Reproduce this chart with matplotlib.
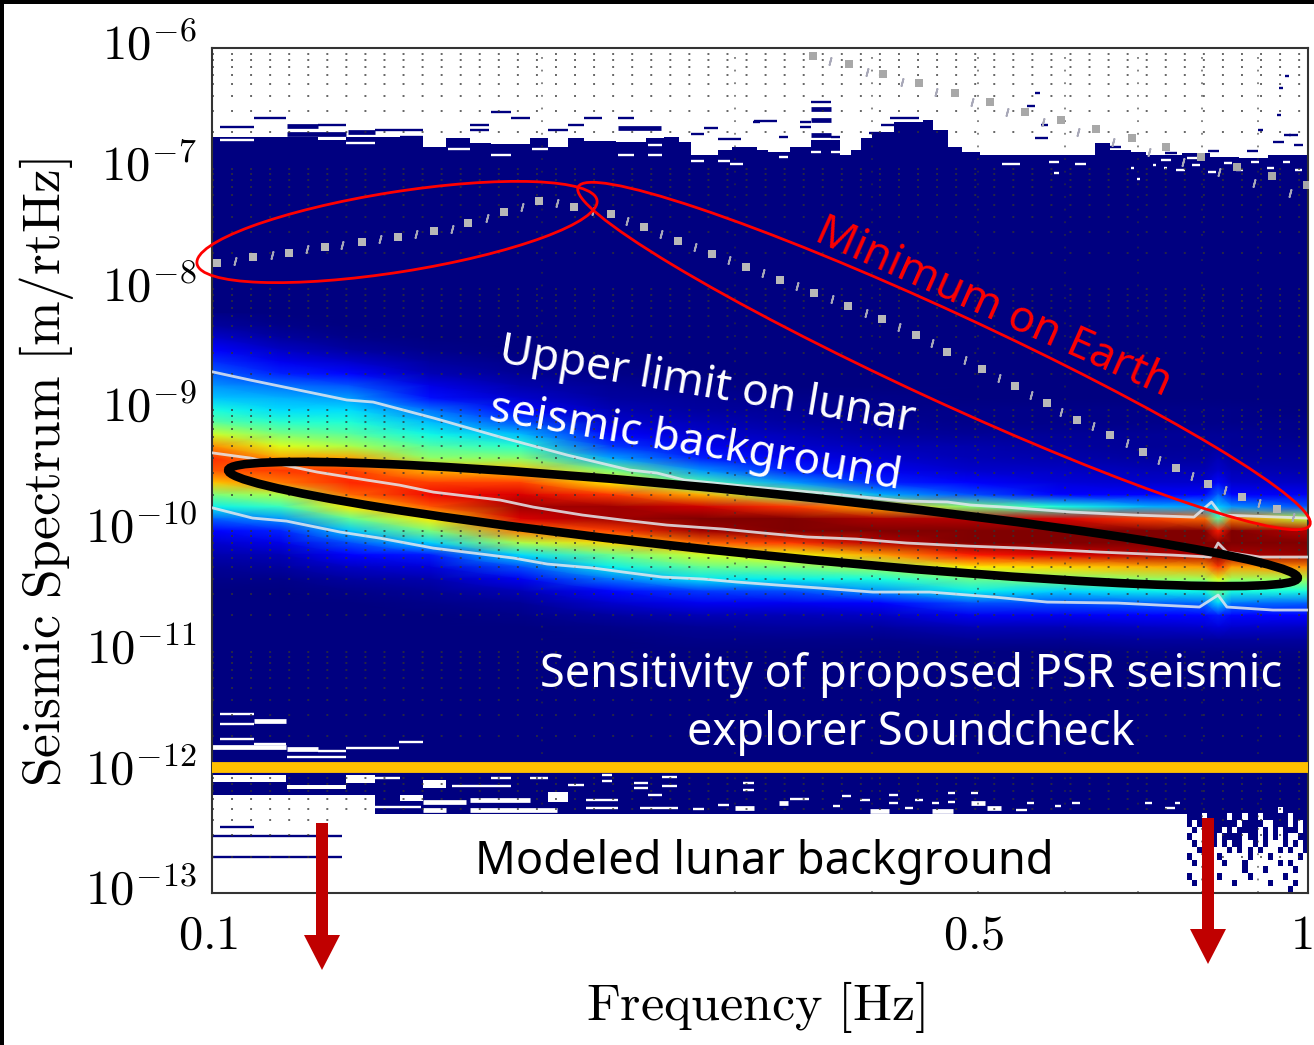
import matplotlib as mpl
mpl.use('Agg')
import matplotlib.pyplot as plt
import numpy as np
from matplotlib.colors import ListedColormap
from matplotlib.patches import Ellipse, FancyArrow, Rectangle
from matplotlib.transforms import Affine2D, IdentityTransform

W, H = 1314, 1045

# density columns, frequency in Hz
psd_freq = [0.1, 0.1154, 0.1336, 0.158, 0.191, 0.231, 0.279, 0.337, 0.407, 0.492,
            0.594, 0.718, 0.805, 0.828, 0.852, 1.0]
# density rows, -log10 of the spectrum
psd_level = [8.2, 8.3, 8.4, 8.5, 8.6, 8.7, 8.8, 8.9, 9.0, 9.1, 9.2, 9.3, 9.4, 9.5, 9.6,
             9.7, 9.8, 9.9, 10.0, 10.1, 10.2, 10.3, 10.4, 10.5, 10.6, 10.7, 10.8, 10.9, 11.0, 11.1]

psd_f0100 = [.01, .03, .07, .12, .17, .22, .27, .32, .38, .46, .6, .76, .86, .82, .7,
             .5, .36, .22, .12, .07, .04, .02, .01, 0, 0, 0, 0, 0, 0, 0]
psd_f0115 = [0, .01, .03, .06, .1, .16, .24, .3, .34, .4, .5, .62, .74, .85, .78,
             .56, .42, .27, .16, .09, .05, .03, .01, 0, 0, 0, 0, 0, 0, 0]
psd_f0134 = [0, 0, .01, .03, .07, .13, .21, .28, .34, .39, .46, .56, .74, .84, .87,
             .8, .66, .47, .32, .2, .11, .06, .03, .01, 0, 0, 0, 0, 0, 0]
psd_f0158 = [0, 0, 0, .01, .03, .05, .09, .14, .24, .31, .37, .45, .53, .72, .84,
             .9, .82, .66, .5, .33, .15, .08, .04, .02, .01, 0, 0, 0, 0, 0]
psd_f0191 = [0, 0, 0, 0, .01, .02, .04, .07, .12, .2, .31, .4, .52, .7, .84,
             .92, .97, .92, .78, .56, .34, .2, .1, .05, .02, .01, 0, 0, 0, 0]
psd_f0231 = [0, 0, 0, 0, 0, .01, .02, .03, .05, .07, .11, .18, .29, .5, .66,
             .85, .97, .97, .84, .68, .48, .36, .24, .13, .07, .03, .01, 0, 0, 0]
psd_f0279 = [0, 0, 0, 0, 0, 0, .01, .02, .03, .05, .07, .1, .16, .27, .44,
             .72, .93, 1, .97, .8, .6, .47, .35, .18, .1, .05, .02, .01, 0, 0]
psd_f0337 = [0, 0, 0, 0, 0, 0, 0, .01, .02, .03, .05, .07, .1, .16, .28,
             .52, .85, 1, 1, .85, .64, .5, .36, .2, .1, .05, .03, .01, 0, 0]
psd_f0407 = [0, 0, 0, 0, 0, 0, 0, .01, .01, .02, .03, .05, .07, .1, .16,
             .3, .72, .96, 1, .95, .74, .54, .38, .27, .12, .06, .03, .01, 0, 0]
psd_f0492 = [0, 0, 0, 0, 0, 0, 0, 0, .01, .01, .02, .04, .05, .07, .11,
             .2, .5, .95, 1, 1, .88, .66, .48, .36, .2, .1, .05, .02, 0, 0]
psd_f0594 = [0, 0, 0, 0, 0, 0, 0, 0, .01, .01, .02, .03, .04, .06, .08,
             .12, .38, .92, 1, 1, .92, .68, .5, .33, .2, .1, .05, .02, 0, 0]
psd_f0718 = [0, 0, 0, 0, 0, 0, 0, 0, .01, .01, .02, .02, .03, .05, .07,
             .11, .3, .84, 1, 1, .95, .72, .53, .36, .22, .12, .06, .03, .01, 0]
psd_f0805 = [0, 0, 0, 0, 0, 0, 0, 0, .01, .01, .02, .02, .03, .05, .07,
             .11, .28, .8, 1, 1, .96, .74, .54, .37, .23, .13, .07, .03, .01, 0]
psd_f0828 = [0, 0, 0, 0, 0, 0, 0, 0, .01, .01, .02, .03, .05, .07, .13,
             .22, .33, .45, .88, 1, 1, .85, .62, .48, .34, .15, .08, .03, .01, 0]
psd_f0852 = [0, 0, 0, 0, 0, 0, 0, 0, .01, .01, .02, .02, .03, .05, .07,
             .11, .27, .78, 1, 1, .96, .74, .54, .38, .24, .13, .07, .03, .01, 0]
psd_f1000 = [0, 0, 0, 0, 0, 0, 0, 0, 0, .01, .01, .02, .03, .04, .06,
             .1, .2, .58, .95, 1, .98, .76, .55, .38, .22, .12, .06, .03, .01, 0]
psd_columns = [psd_f0100, psd_f0115, psd_f0134, psd_f0158, psd_f0191, psd_f0231, psd_f0279, psd_f0337,
               psd_f0407, psd_f0492, psd_f0594, psd_f0718, psd_f0805, psd_f0828, psd_f0852, psd_f1000]

# percentile curves, log10 f and -log10 S
upper_log_f = [-.999, -.965, -.877, -.853, -.798, -.737, -.676, -.619, -.594, -.569, -.506, -.433,
               -.369, -.329, -.308, -.277, -.216, -.159, -.104, -.088, -.079, -.001]
upper_level = [8.684, 8.751, 8.916, 8.933, 9.065, 9.223, 9.372, 9.496, 9.521, 9.579, 9.637, 9.695,
               9.753, 9.761, 9.786, 9.803, 9.844, 9.869, 9.886, 9.761, 9.869, 9.894]
median_log_f = [-.999, -.965, -.904, -.859, -.829, -.798, -.737, -.707, -.662, -.625, -.585, -.534, -.497,
                -.457, -.412, -.366, -.311, -.260, -.190, -.123, -.089, -.082, -.074, -.044, -.001]
median_level = [9.355, 9.397, 9.513, 9.579, 9.621, 9.679, 9.745, 9.803, 9.869, 9.911, 9.952, 9.985, 10.018,
                10.051, 10.068, 10.101, 10.126, 10.143, 10.176, 10.201, 10.217, 10.101, 10.176, 10.217, 10.217]
lower_log_f = [-.999, -.963, -.932, -.883, -.847, -.798, -.725, -.694, -.652, -.625, -.589, -.552, -.521,
               -.484, -.445, -.397, -.345, -.287, -.238, -.174, -.099, -.082, -.074, -.032, -.001]
lower_level = [9.811, 9.894, 9.919, 10.010, 10.060, 10.143, 10.225, 10.275, 10.308, 10.341, 10.383, 10.399, 10.424,
               10.449, 10.474, 10.507, 10.507, 10.548, 10.590, 10.598, 10.631, 10.532, 10.631, 10.656, 10.656]

# minimum on Earth, squares and the short dashes between them
low_sq_log_f = [-.995, -.963, -.930, -.897, -.863, -.830, -.797, -.766, -.734, -.702, -.670, -.636, -.606, -.575,
                -.544, -.513, -.482, -.451, -.420, -.389, -.358, -.329, -.297, -.267, -.238, -.211, -.181, -.151,
                -.120, -.091, -.060, -.028]
low_sq_level = [7.781, 7.732, 7.698, 7.649, 7.607, 7.566, 7.516, 7.450, 7.359, 7.268, 7.317, 7.375, 7.483, 7.599,
                7.707, 7.814, 7.922, 8.030, 8.138, 8.245, 8.378, 8.519, 8.660, 8.800, 8.941, 9.082, 9.206, 9.347,
                9.480, 9.612, 9.720, 9.819]
low_dash_log_f = [-.979, -.945, -.913, -.881, -.847, -.814, -.781, -.749, -.717, -.685, -.652, -.621, -.590, -.559,
                  -.528, -.497, -.466, -.434, -.403, -.373, -.343, -.313, -.282, -.253, -.225, -.196, -.165, -.136,
                  -.106, -.076, -.045, -.014]
low_dash_level = [7.765, 7.715, 7.665, 7.632, 7.582, 7.541, 7.500, 7.408, 7.317, 7.284, 7.350, 7.433, 7.541, 7.649,
                  7.756, 7.864, 7.972, 8.080, 8.196, 8.312, 8.444, 8.585, 8.734, 8.875, 9.016, 9.132, 9.273, 9.413,
                  9.546, 9.662, 9.770, 9.886]
high_sq_log_f = [-.452, -.419, -.388, -.355, -.322, -.290, -.258, -.225, -.193, -.161, -.130, -.098, -.065, -.033, -.001]
high_sq_level = [6.066, 6.133, 6.215, 6.290, 6.373, 6.447, 6.530, 6.597, 6.671, 6.746, 6.820, 6.903, 6.986, 7.060, 7.135]
high_dash_log_f = [-.436, -.402, -.370, -.339, -.307, -.275, -.242, -.210, -.178, -.145, -.114, -.081, -.049, -.016]
high_dash_level = [6.108, 6.199, 6.282, 6.365, 6.447, 6.530, 6.613, 6.696, 6.779, 6.862, 6.945, 7.027, 7.118, 7.201]

# upper edge of the filled histogram
fill_edges = [.1, .1249, .1325, .1408, .1484, .1558, .1635, .172, .1797, .195, .2026, .2112, .2185, .2337, .2489,
              .2585, .2668, .2735, .2895, .2982, .3142, .3216, .3368, .352, .3741, .3828, .391, .4003, .4193, .4454,
              .4548, .4694, .4835, .502, .6393, .6597, .6895, .7115, .7674, .8138, .865, .9194, 1.0]
fill_top = [6.737, 6.762, 6.737, 6.737, 6.746, 6.82, 6.746, 6.787, 6.795, 6.746, 6.82, 6.746, 6.77, 6.779, 6.746,
            6.737, 6.779, 6.887, 6.845, 6.82, 6.845, 6.862, 6.82, 6.762, 6.887, 6.845, 6.746, 6.696, 6.613, 6.597,
            6.679, 6.82, 6.862, 6.887, 6.787, 6.845, 6.862, 6.887, 6.87, 6.903, 6.911, 6.887]
fill_bottom = 12.346
soundcheck_level = 1.1e-12

# single occupied bins outside the filled part: f0, f1, -log10 S
navy_thin = [(.1017, .1093, 6.654), (.1093, .1168, 6.58), (.1249, .1325, 6.638), (.1408, .1558, 6.679),
             (.1484, .1558, 6.737), (.172, .179, 6.638), (.172, .179, 6.679), (.1797, .1875, 6.53),
             (.1875, .195, 6.58), (.2112, .2185, 6.638), (.2026, .2112, 6.679), (.2185, .227, 6.58),
             (.2347, .2426, 6.58), (.2735, .2813, 6.712), (.2813, .2895, 6.663), (.2895, .3039, 6.754),
             (.3118, .3162, 6.613), (.3124, .3278, 6.605), (.3292, .3353, 6.737), (.344, .352, 6.613),
             (.344, .352, 6.654), (.352, .367, 6.447), (.367, .3741, 6.737), (.398, .4075, 6.704),
             (.4075, .4302, 6.638), (.4155, .4414, 6.58), (.563, .57, 6.373), (.554, .563, 6.48),
             (.571, .579, 6.638), (.563, .579, 6.746), (.953, .96, 6.232), (.94, .948, 6.331),
             (.936, .945, 6.555), (.9, .91, 6.679), (.95, .965, 6.72), (.1093, .1168, 12.33),
             (.1017, .1093, 12.454), (.1, .1314, 12.528), (.1, .1314, 12.703),
             (.645, .675, 6.82), (.74, .76, 6.87), (.81, .83, 6.85), (.88, .9, 6.85), (.93, .95, 6.78),
             (.97, .99, 6.8), (.96, .98, 6.72)]
navy_thick = [(.117, .1249, 6.646), (.117, .1325, 6.712), (.1331, .1408, 6.696), (.2347, .2569, 6.663),
              (.352, .367, 6.505), (.352, .367, 6.597), (.352, .367, 6.72)]
white_thin = [(.1017, .1093, 6.762), (.1325, .1408, 6.787), (.1642, .172, 6.837), (.1797, .1875, 6.887),
              (.196, .2026, 6.837), (.2347, .2426, 6.887), (.25, .2573, 6.887), (.25, .2573, 6.804),
              (.2735, .2813, 6.936), (.2895, .297, 6.936), (.297, .3052, 6.961), (.3292, .3353, 6.903),
              (.352, .3591, 6.862), (.367, .3741, 6.862), (.526, .5457, 6.961), (.5804, .593, 6.945),
              (.5867, .593, 7.036), (.6128, .627, 6.961), (.698, .7026, 7.085), (.7759, .7925, 6.911),
              (.7393, .744, 6.995), (.6895, .694, 6.995), (.7225, .727, 6.97),
              (.735, .75, 6.928), (.758, .772, 7.011), (.783, .797, 6.97), (.811, .825, 7.027), (.838, .852, 6.953),
              (.86, .872, 7.011), (.888, .902, 6.945), (.917, .931, 6.994), (.948, .962, 6.945), (.973, .987, 7.011),
              (.1017, .1093, 11.518), (.1017, .1093, 11.60), (.1017, .1093, 11.725), (.1093, .1168, 11.766),
              (.1325, .1481, 11.80), (.1481, .1558, 11.75), (.117, .1325, 11.874), (.1249, .1325, 11.824),
              (.1408, .1484, 12.048), (.1655, .1875, 12.114), (.1797, .1875, 12.048), (.195, .2026, 12.048),
              (.2112, .2185, 12.106), (.227, .2317, 12.023), (.227, .2317, 12.073), (.2426, .25, 12.09),
              (.2426, .25, 12.131), (.25, .2573, 12.189), (.2573, .2655, 12.114), (.2573, .2655, 12.04),
              (.2195, .2347, 12.23), (.2195, .2347, 12.297), (.2456, .266, 12.297), (.2746, .2813, 12.305),
              (.2895, .2961, 12.272), (.3052, .3122, 12.09), (.3052, .3122, 12.147), (.1408, .1551, 12.288),
              (.3368, .3505, 12.222), (.3684, .3741, 12.28), (.3755, .3828, 12.197), (.3902, .3984, 12.23),
              (.4143, .4225, 12.189), (.4143, .4225, 12.255), (.4378, .4454, 12.23), (.4538, .4604, 12.255),
              (.4694, .4765, 12.172), (.4694, .4765, 12.247), (.493, .5003, 12.172), (.5541, .5628, 12.255),
              (.5882, .595, 12.28), (.6095, .6195, 12.255), (.5418, .5541, 12.313), (.429, .4357, 12.297),
              (.71, .72, 12.255), (.74, .757, 12.297), (.757, .765, 12.255)]
white_thick = [(.1, .1168, 11.79), (.1093, .1168, 11.576), (.117, .1249, 11.808), (.1558, .1705, 12.247),
               (.172, .195, 12.23), (.1558, .1635, 12.313), (.172, .2063, 12.313), (.3292, .3353, 12.255),
               (.3985, .4143, 12.321), (.4538, .474, 12.321), (.493, .5068, 12.255), (.51, .5245, 12.297),
               (.2998, .3122, 12.297)]
# larger empty blocks: f0, f1, upper and lower -log10 S
white_blocks = [(.1, .1168, 12.023, 12.08), (.117, .1325, 12.106, 12.139), (.1325, .1408, 12.023, 12.09),
                (.1, .1408, 12.19, 12.346), (.1484, .1558, 12.19, 12.24), (.1558, .1635, 12.065, 12.13),
                (.2026, .2112, 12.16, 12.25)]

# bottom right corner, # is an occupied bin
corner_bins = ['########################',
               '##################.#####',
               '###.####.##.##.#####.###',
               '#.##.#####.####..###.#.#',
               '.#.####.#.####.#.#.###.#',
               '#..#.#.####.##.#.#.#..##',
               '.#..##.#.##..#.#...#.#.#',
               '..#.#...#.#.#.#...#.#..#',
               '#...#.#.....#...#.....#.',
               '.#.....#...#......#.#...',
               '....#......#...#.....#..',
               '#.....#.....#......#....',
               '.#.......#......#....#..',
               '....#...............#...']

x_ticks = [0.1, 0.5, 1]
x_tick_labels = ['$0.1$', '$0.5$', '$1$']
y_ticks = [1e-6, 1e-7, 1e-8, 1e-9, 1e-10, 1e-11, 1e-12, 1e-13]
y_tick_labels = ['$10^{-6}$', '$10^{-7}$', '$10^{-8}$', '$10^{-9}$', '$10^{-10}$', '$10^{-11}$', '$10^{-12}$', '$10^{-13}$']

NAVY = '#000080'
RED = '#FF0000'
DARK_RED = '#C00000'

plt.rcParams['mathtext.fontset'] = 'cm'
plt.rcParams['font.family'] = ['Noto Sans', 'DejaVu Sans']

fig = plt.figure(figsize=(W / 100, H / 100), dpi=100, facecolor='white')
ax = fig.add_axes([212 / W, 1 - 893 / H, (1308 - 212) / W, (893 - 48) / H])
ax.set_xscale('log')
ax.set_yscale('log')
ax.set_xlim(0.1, 1)
ax.set_ylim(1e-13, 1e-6)

ax.stairs(10.0 ** -np.array(fill_top), fill_edges, baseline=10.0 ** -fill_bottom,
          fill=True, color=NAVY, linewidth=0, zorder=1)

psd = np.array(psd_columns).T
ax.pcolormesh(psd_freq, 10.0 ** -np.array(psd_level), psd, cmap='jet', vmin=0, vmax=1,
              shading='gouraud', zorder=1.1)

for f0, f1, level in navy_thin:
    ax.hlines(10.0 ** -level, f0, f1, color=NAVY, lw=1.7, zorder=1.2, capstyle='butt')
for f0, f1, level in navy_thick:
    ax.hlines(10.0 ** -level, f0, f1, color=NAVY, lw=3.4, zorder=1.2, capstyle='butt')
for f0, f1, top, bottom in white_blocks:
    ax.fill_between([f0, f1], 10.0 ** -top, 10.0 ** -bottom, color='white', linewidth=0, zorder=1.2)
for f0, f1, level in white_thin:
    ax.hlines(10.0 ** -level, f0, f1, color='white', lw=1.7, zorder=1.25, capstyle='butt')
for f0, f1, level in white_thick:
    ax.hlines(10.0 ** -level, f0, f1, color='white', lw=3.4, zorder=1.25, capstyle='butt')

corner = np.array([[c == '#' for c in row] for row in corner_bins], dtype=float)
ax.pcolormesh(np.geomspace(0.7756, 1, corner.shape[1] + 1),
              10.0 ** -np.linspace(12.23, 13, corner.shape[0] + 1),
              corner, cmap=ListedColormap(['white', NAVY]), vmin=0, vmax=1, zorder=1.2)

ax.set_xticks(x_ticks, x_tick_labels)
ax.set_xticks([.2, .3, .4, .6, .7, .8, .9], [''] * 7, minor=True)
ax.set_yticks(y_ticks, y_tick_labels)
ax.yaxis.set_minor_locator(mpl.ticker.LogLocator(base=10, subs=range(2, 10), numticks=20))
ax.yaxis.set_minor_formatter(mpl.ticker.NullFormatter())
ax.tick_params(which='both', length=0)
ax.tick_params(axis='x', labelsize=35, pad=13)
ax.tick_params(axis='y', labelsize=35, pad=11)
ax.set_axisbelow(False)
ax.grid(True, which='both', axis='y', color='#333333', alpha=0.75, lw=1.4, ls=(0, (1, 8.8)))
ax.grid(True, which='both', axis='x', color='#333333', alpha=0.65, lw=1.3, ls=(0, (1, 6)))
for spine in ax.spines.values():
    spine.set_color('#333333')
    spine.set_linewidth(1.5)

# tick labels sit a little off their ticks in the picture
for label in ax.get_yticklabels():
    label.set_transform(label.get_transform() + Affine2D().translate(0, 7))
for label, shift in zip(ax.get_xticklabels(), [-4, -4, -7]):
    label.set_transform(label.get_transform() + Affine2D().translate(shift, 0))

for log_f, level in [(upper_log_f, upper_level), (median_log_f, median_level), (lower_log_f, lower_level)]:
    ax.plot(10.0 ** np.array(log_f), 10.0 ** -np.array(level), color='#E4E8EE', lw=2.0, alpha=0.85, zorder=3)

ax.plot(10.0 ** np.array(low_sq_log_f), 10.0 ** -np.array(low_sq_level), ls='none', marker='s', ms=6.3,
        color='#B8B8B8', mew=0, zorder=3)
ax.plot(10.0 ** np.array(low_dash_log_f), 10.0 ** -np.array(low_dash_level), ls='none', marker=(2, 2, -15), ms=6,
        mec='#A8A8B8', mew=1.3, zorder=3)
ax.plot(10.0 ** np.array(high_sq_log_f), 10.0 ** -np.array(high_sq_level), ls='none', marker='s', ms=6.3,
        color='#A8A8A8', mew=0, zorder=3)
ax.plot(10.0 ** np.array(high_dash_log_f), 10.0 ** -np.array(high_dash_level), ls='none', marker=(2, 2, -15), ms=6,
        mec='#A8A8B8', mew=1.3, zorder=3)

ax.axhline(soundcheck_level, color='#FFC000', lw=7.8, zorder=3)
ax.fill_between([0.1314, 0.7756], 10.0 ** -fill_bottom, 1.03e-13, color='white', linewidth=0, zorder=2.6)


def add_pixel_patch(patch):
    patch.set_transform(IdentityTransform())
    patch.set_clip_on(False)
    fig.add_artist(patch)


def add_text(x, y, text, **kwargs):
    fig.text(x / W, 1 - y / H, text, **kwargs)


# annotations drawn over the figure, in pixels from the top left corner
add_pixel_patch(Ellipse((397, H - 232), 405, 80, angle=9, fill=False, ec=RED, lw=2.0))
add_pixel_patch(Ellipse((944, H - 356), 806, 88, angle=-24.8, fill=False, ec=RED, lw=2.0))
add_pixel_patch(Ellipse((763, H - 524), 1075, 62, angle=-5.76, fill=False, ec='black', lw=6.2))
for x, y0, y1 in [(322, 823, 970), (1208, 818, 964)]:
    add_pixel_patch(FancyArrow(x, H - y0, 0, y0 - y1, width=12, head_width=36, head_length=35,
                               length_includes_head=True, fc=DARK_RED, ec='none'))
add_pixel_patch(Rectangle((0, H - 4), W, 4, fc='black', ec='none'))
add_pixel_patch(Rectangle((0, 0), 4, H, fc='black', ec='none'))

add_text(47, 473, r'$\mathrm{Seismic\ Spectrum\ [m/rtHz]}$', fontsize=38.5, rotation=90, ha='center', va='center')
add_text(755, 1007, r'$\mathrm{Frequency\ [Hz]}$', fontsize=37.5, ha='center', va='center')

callout = dict(rotation_mode='anchor', ha='left', va='baseline', fontsize=32)
add_text(813, 240, 'Minimum on Earth', color=RED, rotation=-24, fontsize=31.5, rotation_mode='anchor', ha='left', va='baseline')
add_text(498, 362, 'Upper limit on lunar', color='white', rotation=-9.5, **callout)
add_text(488, 420, 'seismic background', color='white', rotation=-9.5, **callout)
add_text(911, 687, 'Sensitivity of proposed PSR seismic', color='white', fontsize=32.5, ha='center', va='baseline')
add_text(911, 745, 'explorer Soundcheck', color='white', fontsize=32.5, ha='center', va='baseline')
add_text(764, 874, 'Modeled lunar background', color='black', fontsize=32.5, ha='center', va='baseline')

fig.savefig('out.png', dpi=100)
